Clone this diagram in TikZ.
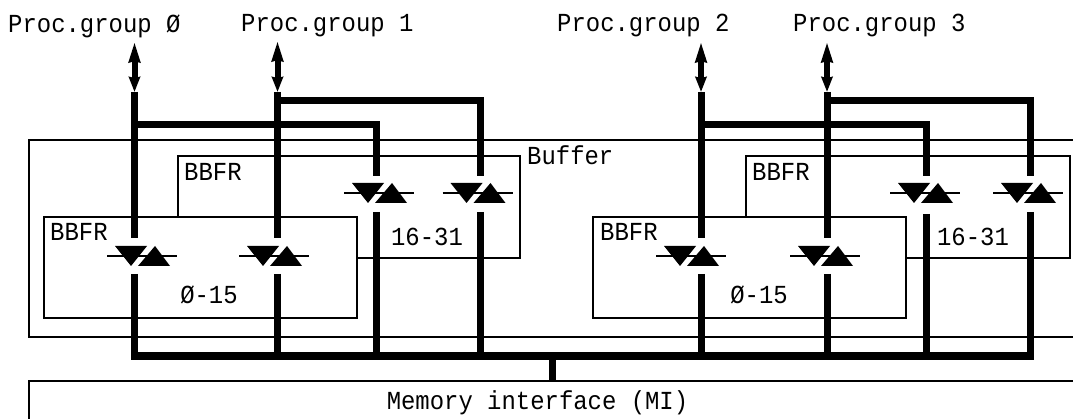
\documentclass[tikz,border=0pt]{standalone}
\usepackage{fontspec}
\setmonofont[FakeStretch=.92]{Liberation Mono}
\usetikzlibrary{arrows.meta}
\tikzset{
  buffbox/.style={rectangle,draw=black,fill=white,line width=1.3pt,inner sep=0pt,outer sep=0pt},
  txt/.style={font=\ttfamily\fontsize{26}{26}\selectfont,inner sep=0pt,text=black},
  lane/.style={line width=7pt,black},
  procarrow/.style={{Stealth[length=20pt,width=11pt,inset=1pt]}-{Stealth[length=15pt,width=11pt,inset=1pt]},line width=6pt,black},
  triac/.pic={
    \draw[line width=1.3pt] (-35,0) -- (35,0);
    \fill (-27,-10) -- (5,-10) -- (-11,10) -- cycle;
    \fill (-4,10) -- (28,10) -- (13,-10) -- cycle;
  }
}
\begin{document}
\begin{tikzpicture}[x=1pt,y=-1pt]
  \useasboundingbox (0,0) rectangle (1073,419);
  % boxes
  \node[buffbox,minimum width=1060pt,minimum height=197pt] (buffer) at (559,238.5) {};
  \node[buffbox,minimum width=342pt,minimum height=102pt] (hi0) at (349,207) {};
  \node[buffbox,minimum width=313pt,minimum height=101pt] (lo0) at (200.5,267.5) {};
  \node[buffbox,minimum width=324pt,minimum height=102pt] (hi1) at (908,207) {};
  \node[buffbox,minimum width=313pt,minimum height=101pt] (lo1) at (749.5,267.5) {};
  \node[buffbox,minimum width=1048pt,minimum height=44pt] (mi) at (553,403) {};
  % labels
  \node[txt,anchor=west] (g0) at (8,26) {Proc.group Ø};
  \node[txt,anchor=west] (g1) at (241,26) {Proc.group 1};
  \node[txt,anchor=west] (g2) at (557,26) {Proc.group 2};
  \node[txt,anchor=west] (g3) at (793,26) {Proc.group 3};
  \node[txt,anchor=west] (lbuf) at (527,155) {Buffer};
  \node[txt,anchor=west] (lhi0) at (184,172) {BBFR};
  \node[txt,anchor=west] (llo0) at (50,232) {BBFR};
  \node[txt,anchor=west] (lhi1) at (752,172) {BBFR};
  \node[txt,anchor=west] (llo1) at (600,232) {BBFR};
  \node[txt] (r0) at (427,237) {16-31};
  \node[txt] (r1) at (973,237) {16-31};
  \node[txt] (r2) at (209,295) {Ø-15};
  \node[txt] (r3) at (759,295) {Ø-15};
  \node[txt] (mitxt) at (537.5,403) {Memory interface (MI)};
  % lane ends
  \coordinate (a0) at (134.5,42);
  \coordinate (a1) at (277.5,41);
  \coordinate (a2) at (701,42);
  \coordinate (a3) at (827,42);
  \coordinate (p0) at (134.5,92);
  \coordinate (p1) at (277.5,92);
  \coordinate (p2) at (701,92);
  \coordinate (p3) at (827,92);
  \coordinate (j0) at (134.5,125);
  \coordinate (j1) at (277.5,101);
  \coordinate (j2) at (701,125);
  \coordinate (j3) at (827,101);
  \coordinate (in0) at (134.5,238);
  \coordinate (in1) at (277.5,238);
  \coordinate (in2) at (701,238);
  \coordinate (in3) at (827,238);
  \coordinate (in4) at (376,176);
  \coordinate (in5) at (480,176);
  \coordinate (in6) at (926,176);
  \coordinate (in7) at (1030,176);
  \coordinate (out0) at (134.5,274);
  \coordinate (out1) at (277.5,274);
  \coordinate (out2) at (701,274);
  \coordinate (out3) at (827,274);
  \coordinate (out4) at (376,212);
  \coordinate (out5) at (480,212);
  \coordinate (out6) at (926,214);
  \coordinate (out7) at (1030,212);
  \coordinate (busl) at (131,356);
  \coordinate (busr) at (1033.5,356);
  \coordinate (drop) at (552,356);
  % processor side
  \draw[procarrow] (a0) -- (p0);
  \draw[procarrow] (a1) -- (p1);
  \draw[procarrow] (a2) -- (p2);
  \draw[procarrow] (a3) -- (p3);
  \draw[lane] (p0) -- (in0);
  \draw[lane] (p1) -- (in1);
  \draw[lane] (p2) -- (in2);
  \draw[lane] (p3) -- (in3);
  \draw[lane] (j0) -| (in4);
  \draw[lane] (j1) -| (in5);
  \draw[lane] (j2) -| (in6);
  \draw[lane] (j3) -| (in7);
  % memory side
  \draw[lane] (out0) -- (out0 |- busl);
  \draw[lane] (out1) -- (out1 |- busl);
  \draw[lane] (out2) -- (out2 |- busl);
  \draw[lane] (out3) -- (out3 |- busl);
  \draw[lane] (out4) -- (out4 |- busl);
  \draw[lane] (out5) -- (out5 |- busl);
  \draw[lane] (out6) -- (out6 |- busl);
  \draw[lane] (out7) -- (out7 |- busl);
  \draw[lane] (busl) -- (busr);
  \draw[lane] (drop) -- (mi.north -| drop);
  % gates
  \pic at (142,256) {triac};
  \pic at (274,256) {triac};
  \pic at (379,193) {triac};
  \pic at (477.5,193) {triac};
  \pic at (691,256) {triac};
  \pic at (825,256) {triac};
  \pic at (925,193) {triac};
  \pic at (1028,193) {triac};
\end{tikzpicture}
\end{document}
